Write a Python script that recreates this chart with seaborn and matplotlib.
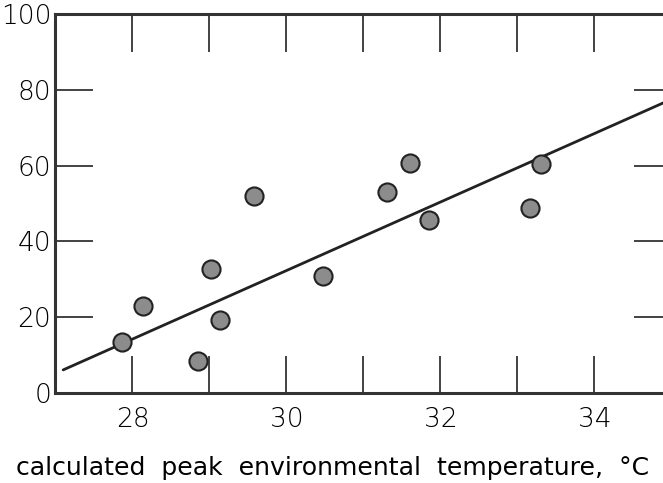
import matplotlib
matplotlib.use("Agg")
import matplotlib.pyplot as plt
import seaborn as sns
import pandas as pd

# data
temp = [27.86, 28.14, 28.85, 29.02, 29.14, 29.58, 30.47, 31.30, 31.60, 31.85, 33.16, 33.30]
value = [13.5, 23.0, 8.4, 32.7, 19.3, 52.0, 30.9, 53.0, 60.7, 45.6, 48.8, 60.4]
fit_x = [27.1, 34.9]
fit_y = [6.1, 76.6]
x_ticks = [28, 29, 30, 31, 32, 33, 34]
x_labels = ["28", "", "30", "", "32", "", "34"]
y_ticks = [0, 20, 40, 60, 80, 100]
y_labels = ["0", "20", "40", "60", "80", "100"]

sns.set_style("ticks")
plt.rcParams['font.family'] = ['DejaVu Sans']

fig = plt.figure(figsize=(6.63, 4.83), dpi=100)
ax = fig.add_axes([0.0837, 0.1863, 0.929, 0.7847])

df = pd.DataFrame({"temp": temp, "value": value})
line_df = pd.DataFrame({"x": fit_x, "y": fit_y})
sns.lineplot(data=line_df, x="x", y="y", ax=ax, color="#222222", lw=2.0, zorder=2)
sns.scatterplot(data=df, x="temp", y="value", ax=ax, s=170, color="#8c8c8c",
                edgecolor="#222222", linewidth=1.5, zorder=3)

ax.set_xlim(27, 35)
ax.set_ylim(0, 100)
ax.set_xticks(x_ticks)
ax.set_xticklabels(x_labels)
ax.set_yticks(y_ticks)
ax.set_yticklabels(y_labels)

ax.tick_params(axis="both", direction="in", length=27, width=1.2, colors="#222222",
               top=True, right=True, labelsize=19)
ax.tick_params(axis="x", pad=10)
ax.tick_params(axis="y", pad=3)
for t in ax.get_xticklabels() + ax.get_yticklabels():
    t.set_fontweight("light")
    t.set_color("#000000")

for side in ["left", "bottom", "top", "right"]:
    ax.spines[side].set_linewidth(2.2)
    ax.spines[side].set_color("#333333")

ax.set_xlabel("calculated  peak  environmental  temperature,  °C", fontsize=18.1,
              color="#000000", ha="left")
ax.xaxis.set_label_coords(-0.064, -0.165)
ax.set_ylabel("")

fig.savefig("out.png", dpi=100)
